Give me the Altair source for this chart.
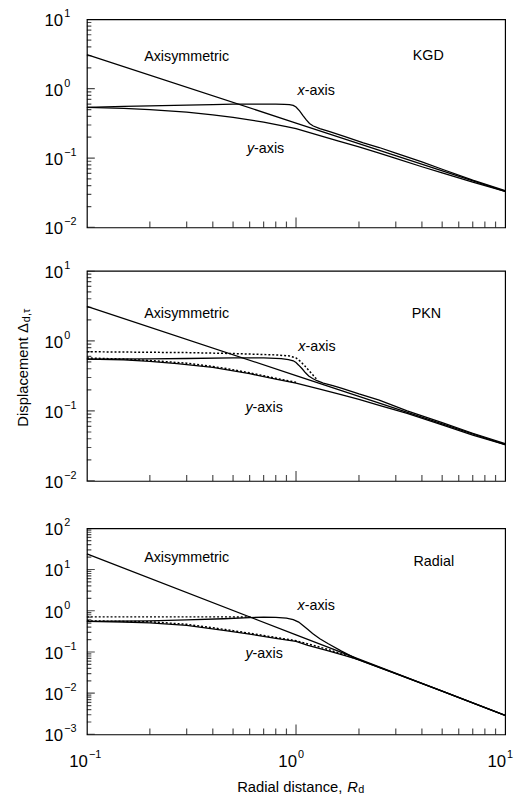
import altair as alt
import pandas as pd

FONT = "Liberation Sans"
W = 424
H1, H2, H3 = 211, 213, 209
YEXT = 76

# ---------------- KGD panel ----------------
kgd_axi_x = [0.1, 1.0, 10.0]
kgd_axi_y = [3.1, 0.32, 0.033]
kgd_xa_x = [0.1, 0.15, 0.2, 0.3, 0.4, 0.5, 0.6, 0.7, 0.8, 0.88, 0.93, 0.97, 1.0, 1.04, 1.08, 1.12, 1.16, 1.21, 1.3, 1.45, 1.7, 2.1, 2.5, 3.0, 4.0, 5.0, 7.0, 10.0]
kgd_xa_y = [0.54, 0.555, 0.565, 0.58, 0.59, 0.60, 0.60, 0.60, 0.60, 0.595, 0.59, 0.575, 0.545, 0.48, 0.41, 0.355, 0.315, 0.29, 0.265, 0.24, 0.205, 0.166, 0.142, 0.118, 0.088, 0.069, 0.048, 0.034]
kgd_ya_x = [0.1, 0.15, 0.2, 0.3, 0.4, 0.5, 0.7, 0.9, 1.0, 1.3, 1.6, 2.0, 2.5, 3.0, 4.0, 5.0, 7.0, 10.0]
kgd_ya_y = [0.54, 0.52, 0.50, 0.46, 0.42, 0.385, 0.33, 0.285, 0.265, 0.21, 0.175, 0.145, 0.118, 0.099, 0.075, 0.061, 0.045, 0.033]

# ---------------- PKN panel ----------------
pkn_axi_x = [0.1, 1.0, 10.0]
pkn_axi_y = [3.1, 0.32, 0.033]
pkn_xa_x = [0.1, 0.2, 0.3, 0.5, 0.7, 0.85, 0.92, 0.97, 1.0, 1.03, 1.07, 1.11, 1.15, 1.2, 1.26, 1.35, 1.5, 1.66, 2.0, 2.5, 3.4, 5.0, 7.0, 10.0]
pkn_xa_y = [0.55, 0.555, 0.56, 0.57, 0.57, 0.56, 0.54, 0.52, 0.49, 0.45, 0.40, 0.35, 0.315, 0.29, 0.27, 0.25, 0.23, 0.21, 0.175, 0.143, 0.10, 0.068, 0.048, 0.034]
pkn_ya_x = [0.1, 0.15, 0.2, 0.27, 0.4, 0.6, 0.8, 1.0, 1.3, 1.66, 2.0, 2.5, 3.4, 5.0, 7.0, 10.0]
pkn_ya_y = [0.55, 0.535, 0.51, 0.475, 0.42, 0.34, 0.285, 0.25, 0.205, 0.17, 0.146, 0.12, 0.092, 0.063, 0.045, 0.033]
pkn_xd_x = [0.1, 0.3, 0.5, 0.8, 0.93, 1.0, 1.05, 1.1, 1.15, 1.2, 1.26]
pkn_xd_y = [0.70, 0.68, 0.66, 0.63, 0.61, 0.57, 0.51, 0.44, 0.38, 0.33, 0.28]
pkn_yd_x = [0.1, 0.15, 0.2, 0.3, 0.45, 0.6, 0.8, 1.0]
pkn_yd_y = [0.57, 0.55, 0.525, 0.48, 0.41, 0.35, 0.292, 0.256]

# ---------------- Radial panel ----------------
rad_axi_x = [0.1, 1.0, 10.0]
rad_axi_y = [24.0, 0.26, 0.0029]
rad_xa_x = [0.1, 0.2, 0.3, 0.45, 0.6, 0.7, 0.8, 0.9, 0.97, 1.03, 1.08, 1.14, 1.2, 1.3, 1.42, 1.65, 1.97, 3.0, 5.0, 10.0]
rad_xa_y = [0.55, 0.57, 0.60, 0.64, 0.68, 0.70, 0.69, 0.66, 0.61, 0.53, 0.44, 0.35, 0.28, 0.21, 0.16, 0.105, 0.066, 0.030, 0.0112, 0.0029]
rad_ya_x = [0.1, 0.15, 0.2, 0.3, 0.46, 0.6, 0.8, 1.0, 1.14, 1.4, 1.7, 1.97, 3.0, 5.0, 10.0]
rad_ya_y = [0.55, 0.53, 0.51, 0.44, 0.33, 0.27, 0.215, 0.18, 0.145, 0.11, 0.083, 0.066, 0.030, 0.0112, 0.0029]
rad_xd_x = [0.1, 0.3, 0.5, 0.62]
rad_xd_y = [0.71, 0.71, 0.71, 0.70]
rad_yd_x = [0.1, 0.2, 0.3, 0.46, 0.6, 0.8, 1.0, 1.4, 1.97]
rad_yd_y = [0.57, 0.54, 0.47, 0.35, 0.285, 0.225, 0.188, 0.118, 0.067]

# ---------------- annotations ----------------
kgd_lab = {"t": ["Axisymmetric", "KGD"], "x": [0.30, 4.29], "y": [2.84, 3.0]}
kgd_ax = {"a": ["x", "y"], "b": ["-axis", "-axis"], "x": [1.10, 0.63], "y": [0.94, 0.137]}
pkn_lab = {"t": ["Axisymmetric", "PKN"], "x": [0.30, 4.2], "y": [2.45, 2.45]}
pkn_ax = {"a": ["x", "y"], "b": ["-axis", "-axis"], "x": [1.11, 0.62], "y": [0.81, 0.11]}
rad_lab = {"t": ["Axisymmetric", "Radial"], "x": [0.30, 4.56], "y": [18.8, 15.6]}
rad_ax = {"a": ["x", "y"], "b": ["-axis", "-axis"], "x": [1.10, 0.62], "y": [1.31, 0.091]}

# ---------------- ticks ----------------
dec_12 = [0.01, 0.1, 1.0, 10.0]
exp_12 = ["\u22122", "\u22121", "0", "1"]
dec_3 = [0.001, 0.01, 0.1, 1.0, 10.0, 100.0]
exp_3 = ["\u22123", "\u22122", "\u22121", "0", "1", "2"]
mantissas = [2, 3, 4, 5, 6, 7, 8, 9]
x_minor = [m * d for d in [0.1, 1.0] for m in mantissas]
x_major = [1.0]
x_lab_v = [0.1, 1.0, 10.0]
x_lab_e = ["\u22121", "0", "1"]
x_edge = [0.1]

xs = alt.Scale(type="log", domain=[0.1, 10], nice=False)
yaxis = alt.Axis(labels=False, ticks=False, domain=False, grid=False, title=None,
                 minExtent=YEXT, maxExtent=YEXT)


def lines_df(pairs):
    rows = []
    for sid, (xv, yv) in enumerate(pairs):
        for a, b in zip(xv, yv):
            rows.append({"x": a, "y": b, "s": sid})
    return pd.DataFrame(rows)


def panel(solid, dotted, ydom, decades, exps, lab, ax, H, bottom=False, ytitle=False):
    ys = alt.Scale(type="log", domain=ydom, nice=False)
    X = lambda f: alt.X(f, type="quantitative", scale=xs, axis=None)
    Y = lambda f: alt.Y(f, type="quantitative", scale=ys, axis=yaxis)
    layers = []
    layers.append(alt.Chart(lines_df(solid)).mark_line(color="black", strokeWidth=1.3)
                  .encode(x=X("x"), y=Y("y"), detail="s:N"))
    if dotted:
        layers.append(alt.Chart(lines_df(dotted)).mark_line(color="black", strokeWidth=1.5, strokeDash=[2, 2])
                      .encode(x=X("x"), y=Y("y"), detail="s:N"))
    # annotations
    layers.append(alt.Chart(pd.DataFrame(lab)).mark_text(font=FONT, fontSize=14.5, align="center", baseline="middle", color="black")
                  .encode(x=X("x"), y=Y("y"), text="t:N"))
    axd = pd.DataFrame(ax)
    layers.append(alt.Chart(axd).mark_text(font=FONT, fontSize=14.5, fontStyle="italic", align="right", baseline="middle", color="black")
                  .encode(x=X("x"), y=Y("y"), text="a:N"))
    layers.append(alt.Chart(axd).mark_text(font=FONT, fontSize=14.5, align="left", baseline="middle", color="black")
                  .encode(x=X("x"), y=Y("y"), text="b:N"))
    # y ticks (inward): horizontal ticks centred on the left edge, clipped to the plot
    dec_df = pd.DataFrame({"v": decades, "e": exps, "x0": x_edge * len(decades)})
    minor_y = [m * d for d in decades[:-1] for m in mantissas]
    minor_df = pd.DataFrame({"v": minor_y, "x0": x_edge * len(minor_y)})
    layers.append(alt.Chart(dec_df).mark_tick(color="black", orient="horizontal", size=16, thickness=1.2, clip=True)
                  .encode(y=Y("v"), x=X("x0")))
    layers.append(alt.Chart(minor_df).mark_tick(color="black", orient="horizontal", size=9, thickness=1.2, clip=True)
                  .encode(y=Y("v"), x=X("x0")))
    # x ticks (inward)
    layers.append(alt.Chart(pd.DataFrame({"v": x_minor})).mark_tick(color="black", orient="vertical", size=6, thickness=1.2)
                  .encode(x=X("v"), y=alt.value(H - 3)))
    layers.append(alt.Chart(pd.DataFrame({"v": x_major})).mark_tick(color="black", orient="vertical", size=10, thickness=1.2)
                  .encode(x=X("v"), y=alt.value(H - 5)))
    # y tick labels: 10 + superscript exponent
    layers.append(alt.Chart(dec_df).mark_text(font=FONT, fontSize=17, align="left", baseline="middle", text="10", dy=2, color="black")
                  .encode(y=Y("v"), x=alt.value(-43)))
    layers.append(alt.Chart(dec_df).mark_text(font=FONT, fontSize=11, align="left", baseline="middle", dy=-5, color="black")
                  .encode(y=Y("v"), x=alt.value(-23), text="e:N"))
    one = pd.DataFrame({"k": [0]})
    if bottom:
        xl = pd.DataFrame({"v": x_lab_v, "e": x_lab_e})
        layers.append(alt.Chart(xl).mark_text(font=FONT, fontSize=17, align="right", baseline="middle", text="10", dx=1, color="black")
                      .encode(x=X("v"), y=alt.value(H + 28)))
        layers.append(alt.Chart(xl).mark_text(font=FONT, fontSize=11, align="left", baseline="middle", dx=2, dy=-7, color="black")
                      .encode(x=X("v"), y=alt.value(H + 28), text="e:N"))
        layers.append(alt.Chart(one).mark_text(font=FONT, fontSize=15, align="right", baseline="middle", text="Radial distance,", color="black")
                      .encode(x=alt.value(259), y=alt.value(H + 53)))
        layers.append(alt.Chart(one).mark_text(font=FONT, fontSize=15, fontStyle="italic", align="left", baseline="middle", text="R", color="black")
                      .encode(x=alt.value(264), y=alt.value(H + 53)))
        layers.append(alt.Chart(one).mark_text(font=FONT, fontSize=11, align="left", baseline="middle", text="d", dy=3, color="black")
                      .encode(x=alt.value(275), y=alt.value(H + 53)))
    if ytitle:
        layers.append(alt.Chart(one).mark_text(font=FONT, fontSize=15, angle=270, align="right", baseline="middle", text="Displacement \u0394", color="black")
                      .encode(x=alt.value(-65), y=alt.value(53)))
        layers.append(alt.Chart(one).mark_text(font=FONT, fontSize=11, angle=270, align="left", baseline="middle", text="d,\u03c4", color="black")
                      .encode(x=alt.value(-61), y=alt.value(52)))
    return alt.layer(*layers).properties(width=W, height=H)


p1 = panel([(kgd_axi_x, kgd_axi_y), (kgd_xa_x, kgd_xa_y), (kgd_ya_x, kgd_ya_y)], [],
           [0.01, 10], dec_12, exp_12, kgd_lab, kgd_ax, H1)
p2 = panel([(pkn_axi_x, pkn_axi_y), (pkn_xa_x, pkn_xa_y), (pkn_ya_x, pkn_ya_y)],
           [(pkn_xd_x, pkn_xd_y), (pkn_yd_x, pkn_yd_y)],
           [0.01, 10], dec_12, exp_12, pkn_lab, pkn_ax, H2, ytitle=True)
p3 = panel([(rad_axi_x, rad_axi_y), (rad_xa_x, rad_xa_y), (rad_ya_x, rad_ya_y)],
           [(rad_xd_x, rad_xd_y), (rad_yd_x, rad_yd_y)],
           [0.001, 100], dec_3, exp_3, rad_lab, rad_ax, H3, bottom=True)

chart = (alt.vconcat(alt.vconcat(p1, p2, spacing=21), p3, spacing=25)
         .properties(padding={"left": 3, "top": -6, "right": 0, "bottom": 0}, background="white")
         .configure(font=FONT)
         .configure_view(stroke="black", strokeWidth=1.2))

chart.save("out.html", embed_options={"renderer": "svg", "actions": False})
